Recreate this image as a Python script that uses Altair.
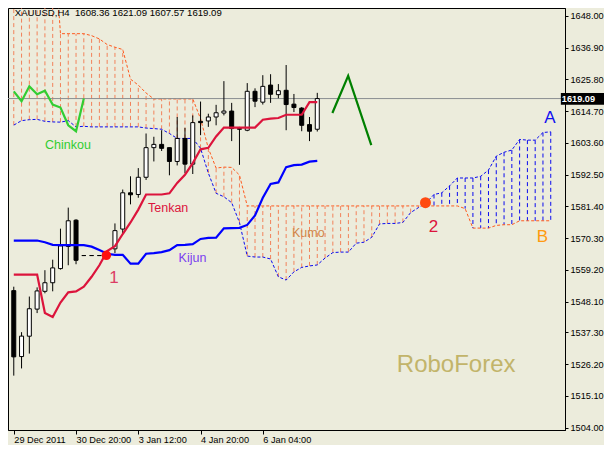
import altair as alt
import pandas as pd

BG = "#ECECDC"
FONT = "Liberation Sans"

# ---------------- data ----------------
bar_index = list(range(40))
opens = [1551.93, 1528.88, 1536.00, 1545.47, 1551.69, 1554.69, 1559.64, 1567.38, 1576.57, 1564.20,
         1564.20, 1564.20, 1564.20, 1566.55, 1573.46, 1586.14, 1585.55, 1591.57, 1601.93, 1603.07,
         1601.93, 1597.10, 1605.15, 1596.16, 1611.13, 1611.26, 1612.65, 1614.03, 1614.72, 1608.60,
         1608.02, 1621.63, 1617.83, 1623.81, 1620.46, 1621.98, 1617.14, 1615.76, 1609.99, 1608.36]
highs = [1553.31, 1537.41, 1549.86, 1553.07, 1559.08, 1562.75, 1573.60, 1580.96, 1576.91, 1564.20,
         1564.20, 1564.20, 1564.20, 1575.43, 1587.28, 1591.91, 1594.78, 1606.88, 1605.74, 1608.02,
         1601.93, 1612.65, 1608.85, 1613.20, 1618.04, 1613.79, 1616.90, 1625.19, 1617.59, 1609.19,
         1624.50, 1622.67, 1627.27, 1627.61, 1624.16, 1630.82, 1620.70, 1616.10, 1612.65, 1621.09]
lows = [1522.21, 1524.73, 1529.92, 1544.08, 1551.00, 1551.69, 1559.29, 1560.81, 1561.16, 1564.20,
        1564.20, 1564.20, 1564.20, 1565.06, 1571.73, 1582.10, 1584.41, 1590.63, 1597.10, 1600.76,
        1592.26, 1595.71, 1593.05, 1592.71, 1606.29, 1609.19, 1609.74, 1613.20, 1604.22, 1595.92,
        1607.67, 1616.10, 1617.00, 1617.59, 1619.21, 1608.02, 1614.37, 1607.67, 1604.22, 1607.57]
closes = [1528.77, 1536.03, 1545.60, 1551.83, 1554.69, 1559.88, 1567.58, 1576.36, 1562.54, 1564.20,
          1564.20, 1564.20, 1564.20, 1572.91, 1586.14, 1585.45, 1591.57, 1601.93, 1603.07, 1601.69,
          1597.10, 1605.15, 1596.16, 1610.68, 1610.68, 1612.65, 1614.13, 1614.72, 1608.60, 1608.36,
          1621.63, 1618.18, 1623.36, 1620.60, 1621.84, 1617.00, 1615.96, 1609.74, 1607.67, 1619.09]

tenkan = [1557.56, 1557.56, 1557.56, 1557.56, 1544.08, 1542.70, 1547.78, 1551.34, 1551.69, 1553.31,
          1556.77, 1560.81, 1565.75, 1567.48, 1571.73, 1575.77, 1580.27, 1585.55, 1585.55, 1585.55,
          1585.97, 1589.60, 1592.47, 1596.51, 1601.35, 1601.87, 1605.84, 1608.95, 1608.95, 1608.95,
          1608.95, 1608.95, 1611.71, 1612.06, 1612.30, 1613.44, 1613.44, 1613.44, 1617.83, 1617.83]
kijun = [1569.45, 1569.45, 1569.45, 1569.45, 1568.86, 1567.93, 1567.83, 1567.83, 1567.83, 1567.83,
         1567.31, 1566.10, 1564.82, 1564.47, 1564.47, 1561.36, 1561.36, 1564.82, 1565.06, 1565.41,
         1566.10, 1567.83, 1567.93, 1568.17, 1570.00, 1570.35, 1570.42, 1573.70, 1573.80, 1573.87,
         1574.91, 1578.19, 1584.41, 1589.25, 1589.77, 1595.13, 1595.82, 1595.99, 1597.03, 1597.30]
chinkou_index = list(range(10))
chinkou = [1621.63, 1618.18, 1623.36, 1620.60, 1621.84, 1617.00, 1615.96, 1609.74, 1607.67, 1619.09]

cloud_index = list(range(70))
span_a = [1609.81, 1611.37, 1611.71, 1611.82, 1611.13, 1610.92, 1610.85, 1611.37, 1609.19, 1609.40,
          1609.19, 1609.19, 1609.19, 1609.19, 1609.19, 1609.19, 1609.19, 1608.78, 1608.60, 1608.36,
          1606.88, 1605.15, 1605.15, 1605.15, 1601.69, 1593.05, 1585.97, 1584.76, 1582.69, 1575.77,
          1564.02, 1563.68, 1563.68, 1562.99, 1556.77, 1555.63, 1558.50, 1560.05, 1560.57, 1560.91,
          1563.33, 1565.23, 1565.41, 1565.41, 1568.52, 1568.86, 1570.59, 1575.26, 1575.43, 1575.43,
          1575.77, 1579.23, 1580.96, 1582.69, 1585.55, 1586.14, 1588.56, 1591.32, 1591.32, 1591.32,
          1591.91, 1594.09, 1598.93, 1600.31, 1601.10, 1604.80, 1604.56, 1604.56, 1607.22, 1607.46]
span_b = [1680.0, 1680.0, 1680.0, 1680.0, 1680.0, 1680.0, 1641.78, 1641.78, 1641.78, 1641.78,
          1641.09, 1639.95, 1637.98, 1637.05, 1636.25, 1625.88, 1623.81, 1621.04, 1618.97, 1618.97,
          1618.97, 1618.97, 1618.97, 1618.97, 1612.06, 1601.69, 1594.78, 1595.13, 1595.02, 1592.36,
          1581.55, 1581.55, 1581.55, 1581.55, 1581.55, 1581.55, 1581.55, 1581.55, 1581.55, 1581.55,
          1581.55, 1581.55, 1581.55, 1581.55, 1581.55, 1581.55, 1581.55, 1581.55, 1581.55, 1581.55,
          1581.55, 1581.55, 1581.55, 1581.55, 1581.55, 1581.55, 1581.55, 1581.55, 1580.61, 1573.80,
          1573.80, 1573.80, 1574.74, 1574.98, 1574.98, 1576.36, 1576.36, 1576.36, 1576.36, 1576.36]

forecast_index = [40.94, 42.97, 45.94]
forecast_price = [1614.03, 1627.02, 1602.83]

last_price = 1619.09
header = "XAUUSD,H4\u00a0 1608.36 1621.09 1607.57 1619.09"

y_ticks = [1648.00, 1636.90, 1625.80, 1614.70, 1603.60, 1592.50, 1581.40, 1570.30,
           1559.20, 1548.10, 1537.30, 1526.20, 1515.10, 1504.00]
x_tick_index = [0, 8, 16, 24, 32]
x_tick_labels = ["29 Dec 2011", "30 Dec 20:00", "3 Jan 12:00", "4 Jan 20:00", "6 Jan 04:00"]

label_text = ["Chinkou", "Tenkan", "Kijun", "Kumo", "1", "2", "A", "B", "RoboForex"]
label_index = [6.96, 19.84, 22.96, 37.85, 12.88, 53.94, 68.9, 67.94, 56.85]
label_price = [1602.97, 1580.79, 1563.23, 1572.04, 1556.49, 1574.15, 1612.16, 1570.83, 1525.77]
label_color = ["#32CD32", "#DC143C", "#7B3FF0", "#D2874A", "#DC3C64", "#DC143C", "#1010F0", "#FF9A10", "#C2B46A"]
label_size = [12.5, 12.5, 12.5, 12.5, 17, 17, 17, 17, 24]

dot_index = [11.9, 52.9]
dot_price = [1564.27, 1582.69]
dot_color = ["#FF1010", "#FF4A10"]
dot_size = [90, 120]

# ---------------- tables ----------------
candles = pd.DataFrame({"i": bar_index, "open": opens, "high": highs, "low": lows, "close": closes})
candles["fill"] = ["#FFFFFF" if c >= o else "#000000" for o, c in zip(opens, closes)]
lines_df = pd.DataFrame({"i": bar_index, "tenkan": tenkan, "kijun": kijun})
chinkou_df = pd.DataFrame({"i": chinkou_index, "v": chinkou})
cloud = pd.DataFrame({"i": cloud_index, "a": span_a, "b": span_b})
cloud["col"] = ["#F2825A" if b > a else "#0A0AF0" for a, b in zip(span_a, span_b)]
fc = pd.DataFrame({"i": forecast_index, "p": forecast_price})
labels = pd.DataFrame({"t": label_text, "i": label_index, "p": label_price,
                       "c": label_color, "s": label_size})
dots = pd.DataFrame({"i": dot_index, "p": dot_price, "c": dot_color, "s": dot_size})
hdr = pd.DataFrame({"t": [header], "i": [0.0], "p": [1648.9]})
tag = pd.DataFrame({"t": [f"{last_price:.2f}"], "i": [70.3], "i2": [76.0],
                    "p": [last_price], "p1": [1621.05], "p2": [1616.90]})

# ---------------- scales/axes ----------------
label_expr = "".join(f"datum.value == {v} ? '{l}' : " for v, l in zip(x_tick_index, x_tick_labels)) + "''"
xsc = alt.Scale(domain=[-0.1, 70.19], nice=False, zero=False)
ysc = alt.Scale(domain=[1503.20, 1650.76], nice=False, zero=False)
xax = alt.Axis(values=x_tick_index, labelExpr=label_expr, grid=False, title=None,
               orient="bottom", labelAlign="left", labelFlush=False, labelOverlap=False,
               tickSize=4, labelPadding=1)
yax = alt.Axis(values=y_ticks, format=".2f", grid=False, title=None, orient="right",
               tickSize=3, labelPadding=2, labelOverlap=False, labelFlush=False)


def X(f="i"):
    return alt.X(f, type="quantitative", scale=xsc, axis=xax)


def Y(f):
    return alt.Y(f, type="quantitative", scale=ysc, axis=yax)


hatch = alt.Chart(cloud).mark_rule(strokeDash=[4, 3], strokeWidth=1, clip=True).encode(
    x=X(), y=Y("a"), y2="b", color=alt.Color("col:N", scale=None))
span_a_line = alt.Chart(cloud).mark_line(color="#0A0AF0", strokeDash=[3, 2], strokeWidth=1, clip=True).encode(
    x=X(), y=Y("a"))
span_b_line = alt.Chart(cloud).mark_line(color="#FF5A1E", strokeDash=[3, 2], strokeWidth=1, clip=True).encode(
    x=X(), y=Y("b"))
bid = alt.Chart(tag).mark_rule(color="#8A8E92", strokeWidth=1).encode(y=Y("p"))

wicks = alt.Chart(candles).mark_rule(color="black", strokeWidth=1, clip=True).encode(
    x=X(), y=Y("low"), y2="high")
bodies = alt.Chart(candles).mark_bar(size=4, stroke="black", strokeWidth=1, clip=True).encode(
    x=X(), y=Y("open"), y2="close", fill=alt.Fill("fill:N", scale=None))

kijun_line = alt.Chart(lines_df).mark_line(color="#0000FF", strokeWidth=2.2, clip=True).encode(
    x=X(), y=Y("kijun"))
tenkan_line = alt.Chart(lines_df).mark_line(color="#DC143C", strokeWidth=2.2, clip=True).encode(
    x=X(), y=Y("tenkan"))
chinkou_line = alt.Chart(chinkou_df).mark_line(color="#32CD32", strokeWidth=2.2, clip=True).encode(
    x=X(), y=Y("v"))
forecast = alt.Chart(fc).mark_line(color="#008000", strokeWidth=2.2).encode(x=X(), y=Y("p"))

dot_layer = alt.Chart(dots).mark_circle(opacity=1).encode(
    x=X(), y=Y("p"), color=alt.Color("c:N", scale=None), size=alt.Size("s:Q", scale=None))
text_layer = alt.Chart(labels).mark_text(font=FONT, align="center", baseline="middle").encode(
    x=X(), y=Y("p"), text="t:N", color=alt.Color("c:N", scale=None), size=alt.Size("s:Q", scale=None))
header_layer = alt.Chart(hdr).mark_text(font=FONT, fontSize=9.6, align="left", baseline="middle",
                                        color="black", dx=1).encode(x=X(), y=Y("p"), text="t:N")
tag_rect = alt.Chart(tag).mark_rect(color="black").encode(x=X(), x2="i2", y=Y("p1"), y2="p2")
tag_text = alt.Chart(tag).mark_text(font=FONT, fontSize=9.2, fontWeight="bold", align="left",
                                    baseline="middle", color="white", dx=1).encode(
    x=X(), y=Y("p"), text="t:N")

chart = alt.layer(
    hatch, span_a_line, span_b_line, bid, wicks, bodies, kijun_line, tenkan_line,
    chinkou_line, forecast, dot_layer, text_layer, header_layer, tag_rect, tag_text
).properties(
    width=557, height=422,
    padding={"left": 0, "top": 0, "right": 39, "bottom": 15},
    autosize=alt.AutoSizeParams(type="none"),
    background=BG,
).configure_view(
    stroke="black", strokeWidth=1, fill=BG
).configure_axis(
    domainColor="black", tickColor="black", labelColor="black", labelFont=FONT,
    labelFontSize=9.2, domainWidth=1, tickWidth=1
)

chart.save("out.html", embed_options={"renderer": "svg", "actions": False})
